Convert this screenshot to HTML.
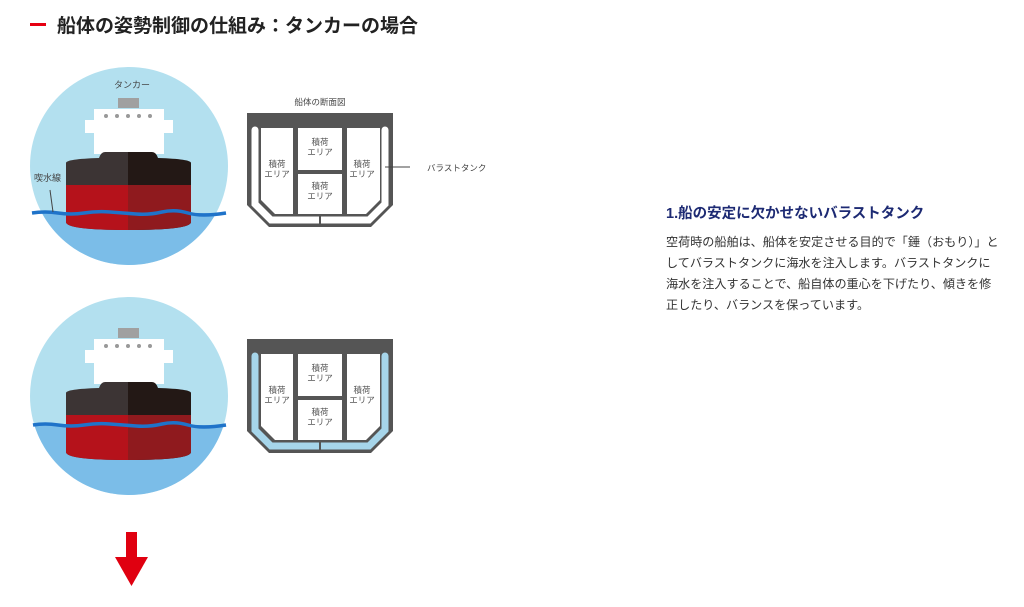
<!DOCTYPE html>
<html><head><meta charset="utf-8"><style>
html,body{margin:0;padding:0;background:#fff;width:1024px;height:607px;overflow:hidden}
svg{display:block}
.t{font-family:"Liberation Sans","Noto Sans CJK JP",sans-serif}
</style></head><body>
<svg width="1024" height="607" viewBox="0 0 1024 607" xmlns="http://www.w3.org/2000/svg" class="t">
<defs>
<clipPath id="c1"><circle cx="129" cy="166" r="99"/></clipPath>
<clipPath id="c2"><circle cx="129" cy="396" r="99"/></clipPath>
</defs>
<rect x="30" y="23" width="16" height="3" fill="#e60012"/>
<text x="57" y="32" font-size="19" font-weight="bold" fill="#222">船体の姿勢制御の仕組み：タンカーの場合</text>

<g clip-path="url(#c1)">
<rect x="20" y="60" width="220" height="220" fill="#b3e0ef"/>
<rect x="20" y="213" width="220" height="70" fill="#7bbde8"/>
</g>
<g>
<rect x="118" y="98" width="21" height="10" fill="#a0a0a0"/>
<rect x="94" y="109" width="70" height="45" fill="#fff"/>
<rect x="85" y="120" width="88" height="13" fill="#fff"/>
<g fill="#999"><circle cx="106" cy="116" r="2"/><circle cx="117" cy="116" r="2"/><circle cx="128" cy="116" r="2"/><circle cx="139" cy="116" r="2"/><circle cx="150" cy="116" r="2"/></g>
<path d="M66 163 Q66 159 99 158 Q101 152 105 152 L128 152 L128 230 Q66 230 66 222 Z" fill="#3c3434"/>
<path d="M191 163 Q191 159 158 158 Q156 152 152 152 L128 152 L128 230 Q191 230 191 222 Z" fill="#231815"/>
<path d="M66 185 L128 185 L128 230 Q66 230 66 222 Z" fill="#b5121b"/>
<path d="M191 185 L128 185 L128 230 Q191 230 191 222 Z" fill="#8f1a1e"/>
</g>
<path d="M32 213 Q45 211 58 213 T84 213 T110 212 T136 214 T162 212 T188 213 T226 213" stroke="#1f73c9" stroke-width="3.5" fill="none"/>
<text x="132" y="88" font-size="9" fill="#444" text-anchor="middle">タンカー</text>
<text x="34" y="181" font-size="9" fill="#444">喫水線</text>
<line x1="50" y1="190" x2="53" y2="212" stroke="#444" stroke-width="1"/>

<text x="320" y="105" font-size="8.5" fill="#444" text-anchor="middle">船体の断面図</text>
<g>
<path d="M247 113 L393 113 L393 205 L371 227 L269 227 L247 205 Z" fill="#555"/>
<path d="M255 130 L255 204 L271 220 L369 220 L385 204 L385 130" stroke="#fff" stroke-width="7" stroke-linecap="round" fill="none"/>
<line x1="320" y1="214" x2="320" y2="224" stroke="#555" stroke-width="2"/>
<path d="M261 128 L293 128 L293 214 L275 214 L261 200 Z" fill="#fff"/>
<rect x="298" y="128" width="44" height="42" fill="#fff"/>
<rect x="298" y="174" width="44" height="40" fill="#fff"/>
<path d="M347 128 L380 128 L380 200 L366 214 L347 214 Z" fill="#fff"/>
</g>
<g font-size="8.5" fill="#555" text-anchor="middle">
<text x="277" y="167">積荷</text><text x="277" y="177">エリア</text>
<text x="320" y="145">積荷</text><text x="320" y="155">エリア</text>
<text x="320" y="189">積荷</text><text x="320" y="199">エリア</text>
<text x="362" y="167">積荷</text><text x="362" y="177">エリア</text>
</g>
<line x1="385" y1="167" x2="410" y2="167" stroke="#444" stroke-width="1"/>
<text x="427" y="171" font-size="8.5" fill="#444">バラストタンク</text>

<g clip-path="url(#c2)">
<rect x="20" y="290" width="220" height="220" fill="#b3e0ef"/>
<rect x="20" y="425" width="220" height="85" fill="#7bbde8"/>
</g>
<g transform="translate(0,230)">
<rect x="118" y="98" width="21" height="10" fill="#a0a0a0"/>
<rect x="94" y="109" width="70" height="45" fill="#fff"/>
<rect x="85" y="120" width="88" height="13" fill="#fff"/>
<g fill="#999"><circle cx="106" cy="116" r="2"/><circle cx="117" cy="116" r="2"/><circle cx="128" cy="116" r="2"/><circle cx="139" cy="116" r="2"/><circle cx="150" cy="116" r="2"/></g>
<path d="M66 163 Q66 159 99 158 Q101 152 105 152 L128 152 L128 230 Q66 230 66 222 Z" fill="#3c3434"/>
<path d="M191 163 Q191 159 158 158 Q156 152 152 152 L128 152 L128 230 Q191 230 191 222 Z" fill="#231815"/>
<path d="M66 185 L128 185 L128 230 Q66 230 66 222 Z" fill="#b5121b"/>
<path d="M191 185 L128 185 L128 230 Q191 230 191 222 Z" fill="#8f1a1e"/>
</g>
<path d="M33 425 Q45 423 58 425 T84 425 T110 424 T136 426 T162 424 T188 425 T226 425" stroke="#1f73c9" stroke-width="3.5" fill="none"/>

<g transform="translate(0,226)">
<path d="M247 113 L393 113 L393 205 L371 227 L269 227 L247 205 Z" fill="#555"/>
<path d="M255 130 L255 204 L271 220 L369 220 L385 204 L385 130" stroke="#a6d5ea" stroke-width="7" stroke-linecap="round" fill="none"/>
<line x1="320" y1="214" x2="320" y2="224" stroke="#555" stroke-width="2"/>
<path d="M261 128 L293 128 L293 214 L275 214 L261 200 Z" fill="#fff"/>
<rect x="298" y="128" width="44" height="42" fill="#fff"/>
<rect x="298" y="174" width="44" height="40" fill="#fff"/>
<path d="M347 128 L380 128 L380 200 L366 214 L347 214 Z" fill="#fff"/>
<g font-size="8.5" fill="#555" text-anchor="middle">
<text x="277" y="167">積荷</text><text x="277" y="177">エリア</text>
<text x="320" y="145">積荷</text><text x="320" y="155">エリア</text>
<text x="320" y="189">積荷</text><text x="320" y="199">エリア</text>
<text x="362" y="167">積荷</text><text x="362" y="177">エリア</text>
</g>
</g>

<rect x="126" y="532" width="11" height="26" fill="#e00010"/>
<path d="M115 557 L148 557 L131.5 586 Z" fill="#e00010"/>

<text x="666" y="218" font-size="14.5" font-weight="bold" fill="#1d2a73">1.船の安定に欠かせないバラストタンク</text>
<g font-size="12.1" fill="#333">
<text x="666" y="246">空荷時の船舶は、船体を安定させる目的で「錘（おもり）」と</text>
<text x="666" y="267">してバラストタンクに海水を注入します。バラストタンクに</text>
<text x="666" y="288">海水を注入することで、船自体の重心を下げたり、傾きを修</text>
<text x="666" y="309">正したり、バランスを保っています。</text>
</g>
</svg>
</body></html>
